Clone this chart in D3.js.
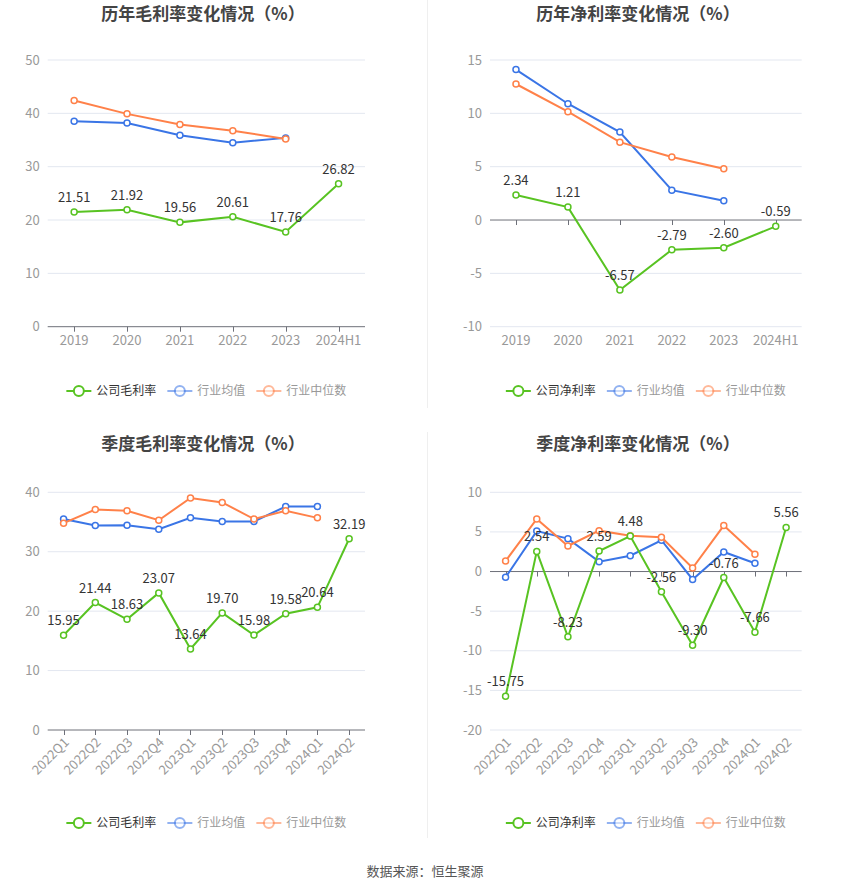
<!DOCTYPE html>
<html><head><meta charset="utf-8">
<script src="https://cdn.jsdelivr.net/npm/d3@7/dist/d3.min.js"></script>
<style>body{margin:0;background:#fff;}svg{display:block;font-family:"Noto Sans CJK SC","Noto Sans",sans-serif;}</style>
</head><body>
<script>
// ---- data ----
const yearCats = ["2019","2020","2021","2022","2023","2024H1"];
const quarterCats = ["2022Q1","2022Q2","2022Q3","2022Q4","2023Q1","2023Q2","2023Q3","2023Q4","2024Q1","2024Q2"];

const grossCompany = [21.51,21.92,19.56,20.61,17.76,26.82];
const grossAvg = [38.5,38.2,35.9,34.5,35.4];
const grossMedian = [42.4,39.9,37.9,36.75,35.2];

const netCompany = [2.34,1.21,-6.57,-2.79,-2.60,-0.59];
const netAvg = [14.1,10.9,8.25,2.8,1.8];
const netMedian = [12.75,10.15,7.3,5.9,4.8];

const qGrossCompany = [15.95,21.44,18.63,23.07,13.64,19.70,15.98,19.58,20.64,32.19];
const qGrossAvg = [35.5,34.4,34.45,33.8,35.7,35.1,35.1,37.6,37.6];
const qGrossMedian = [34.8,37.1,36.9,35.3,39.05,38.3,35.5,36.9,35.7];

const qNetCompany = [-15.75,2.54,-8.23,2.59,4.48,-2.56,-9.30,-0.76,-7.66,5.56];
const qNetAvg = [-0.73,5.1,4.15,1.25,2.0,3.95,-1.0,2.47,1.04];
const qNetMedian = [1.33,6.63,3.23,5.16,4.53,4.32,0.45,5.8,2.18];

const titles = ["历年毛利率变化情况（%）","历年净利率变化情况（%）","季度毛利率变化情况（%）","季度净利率变化情况（%）"];
const legendGross = ["公司毛利率","行业均值","行业中位数"];
const legendNet = ["公司净利率","行业均值","行业中位数"];
const sourceText = "数据来源：恒生聚源";

const C_GREEN = "#58c322", C_BLUE = "#3a75e6", C_ORANGE = "#ff8149";

const svg = d3.select("body").append("svg").attr("width",850).attr("height",891);

// dividers
svg.append("line").attr("x1",427.5).attr("x2",427.5).attr("y1",0).attr("y2",408).attr("stroke","#efefef");
svg.append("line").attr("x1",427.5).attr("x2",427.5).attr("y1",432).attr("y2",838).attr("stroke","#efefef");

function chart(cfg){
  const {x0,x1,y0,y1,domain,step,cats,company,avg,median,title,titleX,titleY,legend,legendY,rotate} = cfg;
  const g = svg.append("g");
  const x = d3.scalePoint().domain(cats).range([x0,x1]).padding(0.5);
  const y = d3.scaleLinear().domain(domain).range([y1,y0]);
  const ticks = d3.range(domain[0],domain[1]+0.001,step);
  // grid
  g.selectAll(".grid").data(ticks.filter(t=>t!==(domain[0]>=0?domain[0]:0))).enter().append("line")
    .attr("x1",x0).attr("x2",x1).attr("y1",d=>y(d)).attr("y2",d=>y(d)).attr("stroke","#e3e7f0").attr("stroke-width",1);
  // y labels
  g.selectAll(".yl").data(ticks).enter().append("text")
    .attr("x",x0-8).attr("y",d=>y(d)).attr("dy","0.35em").attr("text-anchor","end")
    .attr("font-size",13).attr("fill","#999").text(d=>d);
  // axis at zero
  const zy = y(0);
  g.append("line").attr("x1",x0).attr("x2",x1).attr("y1",zy).attr("y2",zy).attr("stroke","#6e7079").attr("stroke-width",1);
  g.selectAll(".tk").data(cats).enter().append("line")
    .attr("x1",d=>Math.round(x(d))+0.5).attr("x2",d=>Math.round(x(d))+0.5).attr("y1",zy).attr("y2",zy+5).attr("stroke","#6e7079");
  // x labels
  if(!rotate){
    g.selectAll(".xl").data(cats).enter().append("text")
      .attr("x",d=>x(d)).attr("y",y1+14).attr("dy","0.35em").attr("text-anchor","middle")
      .attr("font-size",13).attr("fill","#999").text(d=>d);
  } else {
    g.selectAll(".xl").data(cats).enter().append("text")
      .attr("transform",d=>`translate(${x(d)+3},${y1+10}) rotate(-45)`)
      .attr("text-anchor","end").attr("dy","0.35em")
      .attr("font-size",13).attr("fill","#999").text(d=>d);
  }
  const line = d3.line().x(d=>x(d.c)).y(d=>y(d.v));
  function series(vals,color){
    const data = vals.map((v,i)=>({c:cats[i],v}));
    g.append("path").datum(data).attr("d",line).attr("fill","none").attr("stroke",color).attr("stroke-width",2);
    g.selectAll(null).data(data).enter().append("circle")
      .attr("cx",d=>x(d.c)).attr("cy",d=>y(d.v)).attr("r",3).attr("fill","#fff").attr("stroke",color).attr("stroke-width",1.5);
    return data;
  }
  series(avg,C_BLUE);
  series(median,C_ORANGE);
  const cd = series(company,C_GREEN);
  g.selectAll(null).data(cd).enter().append("text")
    .attr("x",d=>x(d.c)).attr("y",d=>y(d.v)-10).attr("text-anchor","middle")
    .attr("font-size",13).attr("fill","#333").text(d=>d.v.toFixed(2));
  // title
  g.append("text").attr("x",titleX).attr("y",titleY).attr("text-anchor","middle")
    .attr("font-size",17).attr("font-weight","bold").attr("fill","#444").text(title);
  // legend
  const colors=[C_GREEN,C_BLUE,C_ORANGE];
  const op=[1,0.55,0.55];
  const tcol=["#333","#999","#999"];
  const widths = legend.map(t=>25+5+t.length*12+11);
  const total = d3.sum(widths)-11;
  let lx = (x0+x1)/2 - total/2;
  legend.forEach((t,i)=>{
    const lg = g.append("g").attr("transform",`translate(${lx},${legendY})`);
    lg.append("line").attr("x1",0).attr("x2",25).attr("y1",0).attr("y2",0).attr("stroke",colors[i]).attr("stroke-width",2).attr("opacity",op[i]);
    lg.append("circle").attr("cx",12.5).attr("cy",0).attr("r",5).attr("fill","#fff").attr("stroke",colors[i]).attr("stroke-width",2).attr("opacity",op[i]);
    lg.append("text").attr("x",30).attr("y",0).attr("dy","0.35em").attr("font-size",12).attr("fill",tcol[i]).text(t);
    lx += widths[i];
  });
}

chart({x0:47.7,x1:365,y0:60,y1:326.7,domain:[0,50],step:10,cats:yearCats,company:grossCompany,avg:grossAvg,median:grossMedian,
  title:titles[0],titleX:203,titleY:20,legend:legendGross,legendY:391,rotate:false});
chart({x0:490,x1:801.7,y0:60,y1:326.7,domain:[-10,15],step:5,cats:yearCats,company:netCompany,avg:netAvg,median:netMedian,
  title:titles[1],titleX:638,titleY:20,legend:legendNet,legendY:391,rotate:false});
chart({x0:47.7,x1:365,y0:492.3,y1:730,domain:[0,40],step:10,cats:quarterCats,company:qGrossCompany,avg:qGrossAvg,median:qGrossMedian,
  title:titles[2],titleX:203,titleY:450,legend:legendGross,legendY:823,rotate:true});
chart({x0:490,x1:801.7,y0:492.3,y1:730,domain:[-20,10],step:5,cats:quarterCats,company:qNetCompany,avg:qNetAvg,median:qNetMedian,
  title:titles[3],titleX:638,titleY:450,legend:legendNet,legendY:823,rotate:true});

svg.append("text").attr("x",425).attr("y",876).attr("text-anchor","middle").attr("font-size",13).attr("fill","#555").text(sourceText);
</script>
</body></html>
